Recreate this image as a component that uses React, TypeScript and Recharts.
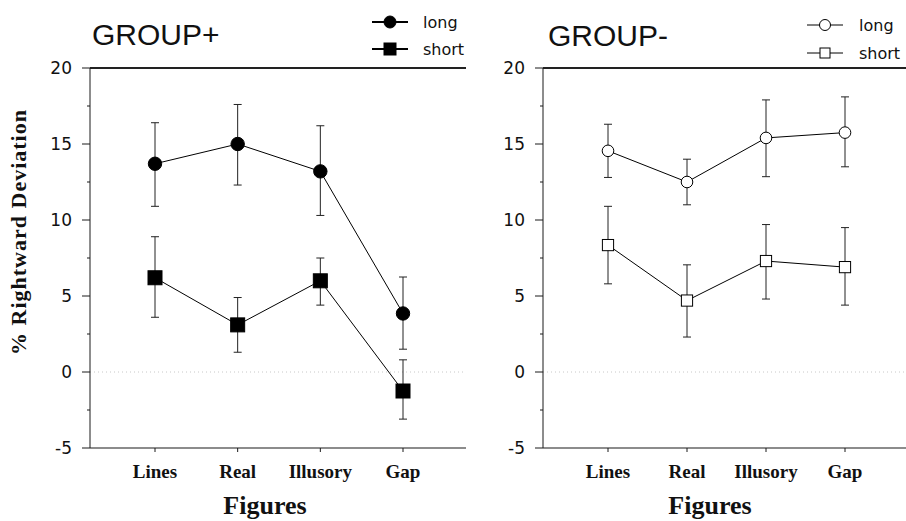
import React from 'react';
import {
  ErrorBar,
  Line,
  LineChart,
  ReferenceLine,
  XAxis,
  YAxis,
} from 'recharts';

// Figure categories along the x axis
const categories = ['Lines', 'Real', 'Illusory', 'Gap'];

// GROUP+ : means and error-bar ends
const plusLong = [13.7, 15.0, 13.2, 3.85];
const plusLongHi = [16.4, 17.6, 16.2, 6.25];
const plusLongLo = [10.9, 12.3, 10.3, 1.5];
const plusShort = [6.2, 3.1, 6.0, -1.25];
const plusShortHi = [8.9, 4.9, 7.5, 0.8];
const plusShortLo = [3.6, 1.3, 4.4, -3.1];

// GROUP- : means and error-bar ends
const minusLong = [14.55, 12.5, 15.4, 15.75];
const minusLongHi = [16.3, 14.0, 17.9, 18.1];
const minusLongLo = [12.8, 11.0, 12.85, 13.5];
const minusShort = [8.35, 4.7, 7.3, 6.9];
const minusShortHi = [10.9, 7.05, 9.7, 9.5];
const minusShortLo = [5.8, 2.3, 4.8, 4.4];

const yTicks = [-5, -2.5, 0, 2.5, 5, 7.5, 10, 12.5, 15, 17.5, 20];

const seriesNames = ['long', 'short'];

const INK = '#1a1a1a';
const SANS = '"DejaVu Sans", Verdana, sans-serif';
const SERIF = '"Liberation Serif", "Times New Roman", serif';

function buildRows(
  long: number[], longHi: number[], longLo: number[],
  short: number[], shortHi: number[], shortLo: number[],
) {
  return categories.map((name, i) => ({
    name,
    long: long[i],
    longErr: [long[i] - longLo[i], longHi[i] - long[i]],
    short: short[i],
    shortErr: [short[i] - shortLo[i], shortHi[i] - short[i]],
  }));
}

const plusRows = buildRows(plusLong, plusLongHi, plusLongLo, plusShort, plusShortHi, plusShortLo);
const minusRows = buildRows(minusLong, minusLongHi, minusLongLo, minusShort, minusShortHi, minusShortLo);

// y ticks: long marks + labels on multiples of 5, short marks in between
function YTick(props: any) {
  const { x, y, payload } = props;
  const v = payload.value as number;
  const major = v % 5 === 0;
  const axisX = x + 18;
  return (
    <g>
      <line x1={axisX - (major ? 8 : 3)} x2={axisX} y1={y} y2={y} stroke={INK} strokeWidth={1} />
      {major ? (
        <text x={x} y={y} dy="0.36em" textAnchor="end" fontFamily={SANS} fontSize={17} fill="#111">
          {v}
        </text>
      ) : null}
    </g>
  );
}

function XTick(props: any) {
  const { x, y, payload } = props;
  return (
    <text x={x} y={y + 18} textAnchor="middle" fontFamily={SERIF} fontWeight="bold" fontSize={19} fill="#111">
      {payload.value}
    </text>
  );
}

function makeDot(shape: 'circle' | 'square', filled: boolean, size: number) {
  return (props: any) => {
    const { cx, cy, index } = props;
    if (cx == null || cy == null) return <g key={index} />;
    const fill = filled ? '#000' : '#fff';
    if (shape === 'circle') {
      return <circle key={index} cx={cx} cy={cy} r={size} fill={fill} stroke="#000" strokeWidth={1} />;
    }
    return (
      <rect key={index} x={cx - size} y={cy - size} width={size * 2} height={size * 2} fill={fill} stroke="#000" strokeWidth={1} />
    );
  };
}

interface PanelProps {
  rows: ReturnType<typeof buildRows>;
  width: number;
  marginRight: number;
  padRight: number;
  filled: boolean;
}

function Panel({ rows, width, marginRight, padRight, filled }: PanelProps) {
  const rCircle = filled ? 6.7 : 5.8;
  const rSquare = filled ? 7 : 5.6;
  return (
    <LineChart
      width={width}
      height={521}
      data={rows}
      margin={{ top: 68, right: marginRight, left: 30, bottom: 43 }}
    >
      <XAxis
        dataKey="name"
        height={30}
        padding={{ left: 65, right: padRight }}
        axisLine={{ stroke: INK, strokeWidth: 1.2 }}
        tickLine={{ stroke: INK }}
        tickSize={4}
        tickMargin={8}
        tick={<XTick />}
        interval={0}
      />
      <YAxis
        domain={[-5, 20]}
        ticks={yTicks}
        width={60}
        allowDataOverflow
        axisLine={{ stroke: INK, strokeWidth: 1 }}
        tickLine={false}
        tickSize={8}
        tickMargin={10}
        tick={<YTick />}
        interval={0}
      />
      {/* top edge of the plot frame */}
      <ReferenceLine y={20} stroke="#222" strokeWidth={2} ifOverflow="visible" />
      <ReferenceLine y={0} stroke="#c8c8c8" strokeDasharray="1 3" />
      <Line
        dataKey="long"
        name={seriesNames[0]}
        stroke="#000"
        strokeWidth={1}
        dot={makeDot('circle', filled, rCircle)}
        activeDot={false}
        isAnimationActive={false}
      >
        <ErrorBar dataKey="longErr" width={4} stroke="#222" strokeWidth={1} direction="y" isAnimationActive={false} />
      </Line>
      <Line
        dataKey="short"
        name={seriesNames[1]}
        stroke="#000"
        strokeWidth={1}
        dot={makeDot('square', filled, rSquare)}
        activeDot={false}
        isAnimationActive={false}
      >
        <ErrorBar dataKey="shortErr" width={4} stroke="#222" strokeWidth={1} direction="y" isAnimationActive={false} />
      </Line>
    </LineChart>
  );
}

// small legend: line with a marker, then the series name
function LegendKey({ x, y, filled, spacing }: { x: number; y: number; filled: boolean; spacing: number }) {
  return (
    <g>
      {seriesNames.map((name, i) => {
        const cy = y + i * spacing;
        const cx = x + 18;
        const fill = filled ? '#000' : '#fff';
        return (
          <g key={name}>
            <line x1={x} x2={x + 36} y1={cy} y2={cy} stroke="#000" strokeWidth={filled ? 2 : 1} />
            {i === 0 ? (
              <circle cx={cx} cy={cy} r={filled ? 6 : 5.5} fill={fill} stroke="#000" />
            ) : (
              <rect x={cx - (filled ? 6 : 5)} y={cy - (filled ? 6 : 5)} width={filled ? 12 : 10} height={filled ? 12 : 10} fill={fill} stroke="#000" />
            )}
            <text x={x + (filled ? 51 : 52)} y={cy} dy="0.35em" fontFamily={SANS} fontSize={16} fill="#111">
              {name}
            </text>
          </g>
        );
      })}
    </g>
  );
}

export default function App() {
  return (
    <div style={{ position: 'absolute', left: 0, top: 0, width: 906, height: 521, background: '#fff', overflow: 'hidden' }}>
      <div style={{ position: 'absolute', left: 0, top: 0 }}>
        <Panel rows={plusRows} width={480} marginRight={14} padRight={63} filled />
      </div>
      <div style={{ position: 'absolute', left: 453, top: 0 }}>
        <Panel rows={minusRows} width={453} marginRight={0} padRight={61} filled={false} />
      </div>
      <svg width={906} height={521} style={{ position: 'absolute', left: 0, top: 0, pointerEvents: 'none' }}>
        <text x={92} y={45} fontFamily='"Liberation Sans", Arial, sans-serif' fontSize={30} fill="#111">GROUP+</text>
        <text x={548} y={46} fontFamily='"Liberation Sans", Arial, sans-serif' fontSize={30} fill="#111">GROUP-</text>
        <LegendKey x={372} y={22} filled spacing={27} />
        <LegendKey x={807} y={25} filled={false} spacing={28} />
        <text
          x={26}
          y={232}
          transform="rotate(-90 26 232)"
          textAnchor="middle"
          fontFamily={SERIF}
          fontWeight="bold"
          fontSize={22}
          letterSpacing={1}
          fill="#111"
        >
          % Rightward Deviation
        </text>
        <text x={265} y={514} textAnchor="middle" fontFamily={SERIF} fontWeight="bold" fontSize={26} fill="#111">Figures</text>
        <text x={710} y={514} textAnchor="middle" fontFamily={SERIF} fontWeight="bold" fontSize={26} fill="#111">Figures</text>
      </svg>
    </div>
  );
}
